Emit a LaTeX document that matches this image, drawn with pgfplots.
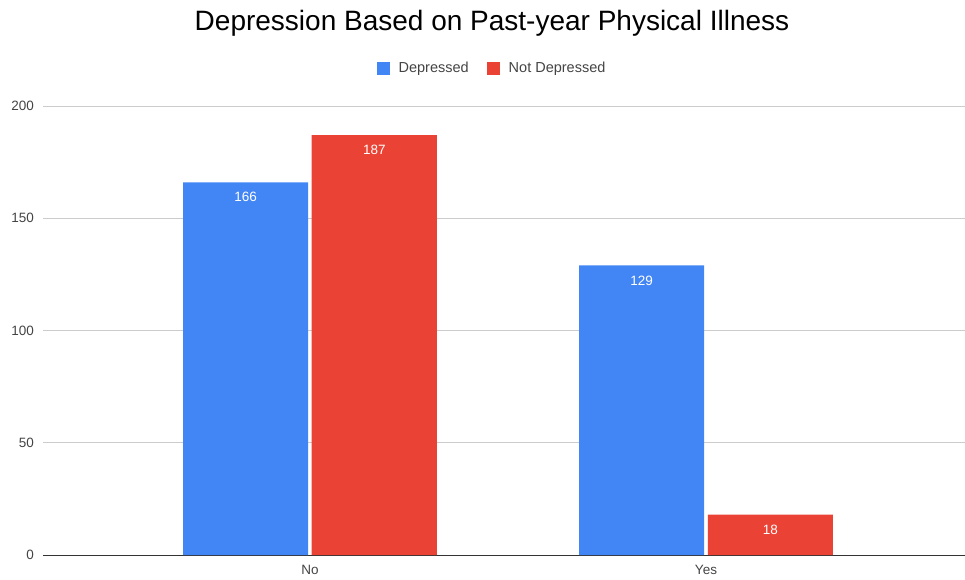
\documentclass[border=0pt]{standalone}
\usepackage{fontspec}
\setmainfont{Liberation Sans}
\usepackage{pgfplots}
\pgfplotsset{compat=1.18}
\definecolor{gblue}{HTML}{4285F4}
\definecolor{gred}{HTML}{EA4335}
\definecolor{gridgray}{HTML}{CCCCCC}
\definecolor{ticktext}{HTML}{444444}
\definecolor{axisdark}{HTML}{333333}
\begin{document}
\begin{tikzpicture}
\path[use as bounding box] (0,0) rectangle (965pt,580pt);
\node[font=\fontsize{28}{31}\selectfont, text=black] at (492pt,557pt) {Depression Based on Past-year Physical Illness};
\begin{axis}[
  at={(43pt,25pt)}, anchor=south west,
  scale only axis, width=922pt, height=449pt,
  ybar,
  xmin=-0.674, xmax=1.654,
  ymin=0, ymax=200,
  xtick={0,1}, xticklabels={No,Yes},
  ytick={0,50,100,150,200},
  major tick length=0pt,
  axis lines*=left,
  y axis line style={draw=none},
  x axis line style={draw=axisdark, line width=0.9pt},
  ymajorgrids, grid style={draw=gridgray, line width=0.8pt},
  tick label style={font=\fontsize{13.5}{15}\selectfont, text=ticktext, inner sep=0pt},
  /pgf/number format/assume math mode=true,
  xticklabel style={anchor=north, yshift=-10pt},
  yticklabel style={anchor=east, xshift=-9pt},
  bar width=0.316,
  nodes near coords,
  every node near coord/.append style={anchor=north, yshift=-10pt, inner sep=0pt, text=white, font=\fontsize{13.5}{15}\selectfont},
  legend columns=2,
  legend style={at={(0.487,1.0846)}, anchor=center, draw=none, fill=none,
    font=\fontsize{14.5}{16}\selectfont, text=ticktext,
    /tikz/every even column/.append style={column sep=16pt}},
  legend image code/.code={\fill[#1] (0pt,-6.5pt) rectangle (13pt,6.5pt); \path (20pt,0pt);},
]
\addplot[fill=gblue, draw=none, bar shift=-0.1625] coordinates {(0,166) (1,129)};
\addplot[fill=gred, draw=none, bar shift=0.1625] coordinates {(0,187) (1,18)};
\legend{Depressed, Not Depressed}
\end{axis}
\end{tikzpicture}
\end{document}
